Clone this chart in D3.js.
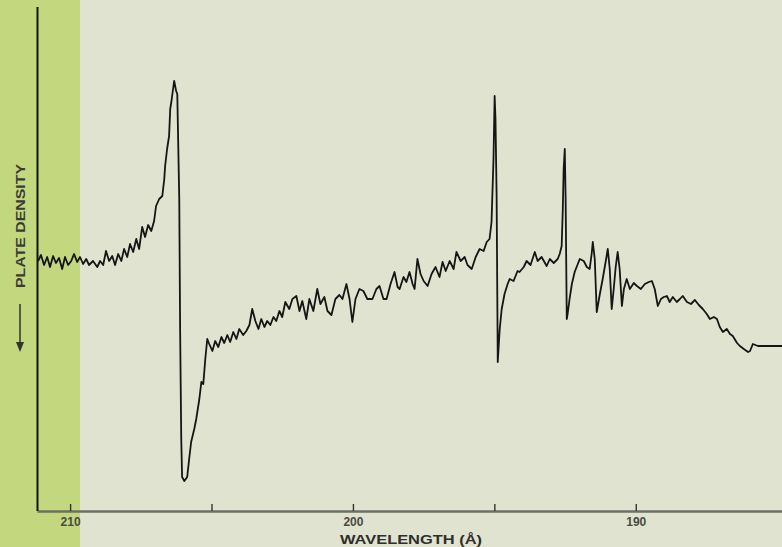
<!DOCTYPE html>
<html>
<head>
<meta charset="utf-8">
<script src="https://cdn.jsdelivr.net/npm/d3@7"></script>
<style>
  html, body { margin: 0; padding: 0; background: #e0e3cf; }
  svg { display: block; }
</style>
</head>
<body>
<div id="canvas"></div>
<script>
// wavelength in angstrom, decreasing to the right
var wavelength = [
  211.13, 211.03, 210.92, 210.81, 210.71, 210.60, 210.50, 210.39, 210.28, 210.18,
  210.07, 209.96, 209.86, 209.75, 209.65, 209.54, 209.43, 209.33, 209.19, 209.04,
  208.94, 208.83, 208.73, 208.62, 208.51, 208.41, 208.30, 208.19, 208.09, 207.98,
  207.88, 207.77, 207.66, 207.56, 207.45, 207.35, 207.24, 207.13, 207.03, 206.96,
  206.85, 206.74, 206.67, 206.64, 206.57, 206.50, 206.46, 206.42, 206.35, 206.32,
  206.25, 206.21, 206.14, 206.11, 206.07, 206.04, 205.96, 205.86, 205.79, 205.72,
  205.61, 205.54, 205.43, 205.36, 205.29, 205.22, 205.15, 205.08, 204.97, 204.87,
  204.76, 204.65, 204.55, 204.44, 204.34, 204.23, 204.12, 204.02, 203.88, 203.77,
  203.66, 203.56, 203.45, 203.34, 203.24, 203.13, 203.03, 202.92, 202.81, 202.71,
  202.60, 202.50, 202.39, 202.25, 202.14, 202.00, 201.89, 201.79, 201.65, 201.54,
  201.40, 201.26, 201.15, 201.01, 200.90, 200.76, 200.62, 200.48, 200.37, 200.23,
  200.12, 200.02, 199.91, 199.77, 199.63, 199.49, 199.31, 199.17, 199.06, 198.92,
  198.81, 198.67, 198.53, 198.42, 198.35, 198.21, 198.11, 198.00, 197.89, 197.82,
  197.72, 197.61, 197.50, 197.36, 197.22, 197.08, 196.94, 196.83, 196.72, 196.58,
  196.44, 196.34, 196.19, 196.05, 195.95, 195.80, 195.66, 195.52, 195.38, 195.27,
  195.17, 195.10, 195.03, 194.99, 194.96, 194.92, 194.88, 194.81, 194.74, 194.64,
  194.53, 194.46, 194.32, 194.18, 194.11, 193.96, 193.86, 193.72, 193.57, 193.47,
  193.33, 193.15, 193.04, 192.90, 192.76, 192.69, 192.62, 192.58, 192.55, 192.51,
  192.48, 192.44, 192.41, 192.34, 192.26, 192.16, 192.05, 191.98, 191.84, 191.73,
  191.63, 191.56, 191.52, 191.45, 191.38, 191.27, 191.17, 191.06, 190.99, 190.92,
  190.85, 190.78, 190.71, 190.64, 190.57, 190.49, 190.42, 190.32, 190.21, 190.07,
  189.96, 189.82, 189.68, 189.54, 189.43, 189.33, 189.22, 189.11, 189.01, 188.90,
  188.80, 188.69, 188.55, 188.44, 188.34, 188.19, 188.05, 187.91, 187.77, 187.63,
  187.49, 187.38, 187.24, 187.13, 187.03, 186.92, 186.78, 186.67, 186.57, 186.42,
  186.32, 186.18, 186.03, 185.96, 185.86, 185.68, 185.26, 184.83
];

// plate density, arbitrary units
var density = [
  2.50, 2.56, 2.46, 2.54, 2.44, 2.55, 2.48, 2.53, 2.42, 2.54,
  2.46, 2.50, 2.57, 2.49, 2.54, 2.47, 2.52, 2.46, 2.50, 2.44,
  2.50, 2.46, 2.60, 2.50, 2.55, 2.46, 2.57, 2.50, 2.62, 2.54,
  2.67, 2.59, 2.72, 2.62, 2.84, 2.74, 2.86, 2.80, 2.90, 3.05,
  3.12, 3.15, 3.32, 3.45, 3.62, 3.75, 4.02, 4.09, 4.24, 4.30,
  4.20, 4.17, 3.12, 1.82, 0.72, 0.34, 0.30, 0.34, 0.52, 0.69,
  0.82, 0.92, 1.12, 1.29, 1.27, 1.52, 1.72, 1.67, 1.60, 1.70,
  1.64, 1.74, 1.68, 1.76, 1.69, 1.79, 1.72, 1.82, 1.76, 1.80,
  1.86, 2.02, 1.90, 1.82, 1.92, 1.84, 1.90, 1.86, 1.94, 1.90,
  2.00, 1.94, 2.09, 2.02, 2.12, 2.15, 2.00, 2.10, 1.92, 2.12,
  2.00, 2.22, 2.07, 2.14, 2.00, 1.96, 2.12, 2.16, 2.12, 2.27,
  2.12, 1.89, 2.12, 2.22, 2.20, 2.12, 2.12, 2.22, 2.25, 2.12,
  2.12, 2.27, 2.39, 2.24, 2.22, 2.34, 2.29, 2.39, 2.27, 2.22,
  2.52, 2.37, 2.30, 2.25, 2.37, 2.44, 2.34, 2.49, 2.40, 2.50,
  2.42, 2.59, 2.50, 2.54, 2.46, 2.42, 2.54, 2.62, 2.60, 2.69,
  2.72, 2.89, 3.52, 4.15, 3.92, 3.15, 1.49, 1.82, 2.02, 2.17,
  2.27, 2.32, 2.30, 2.40, 2.39, 2.44, 2.50, 2.46, 2.59, 2.50,
  2.54, 2.45, 2.52, 2.48, 2.52, 2.57, 2.65, 3.02, 3.42, 3.62,
  3.12, 1.92, 1.97, 2.12, 2.27, 2.39, 2.47, 2.52, 2.50, 2.44,
  2.42, 2.57, 2.69, 2.52, 1.99, 2.17, 2.32, 2.50, 2.62, 2.42,
  2.02, 2.22, 2.44, 2.59, 2.42, 2.05, 2.22, 2.32, 2.22, 2.28,
  2.25, 2.22, 2.27, 2.29, 2.30, 2.22, 2.05, 2.12, 2.14, 2.15,
  2.09, 2.14, 2.09, 2.12, 2.15, 2.09, 2.07, 2.11, 2.06, 2.02,
  1.97, 1.92, 1.94, 1.92, 1.84, 1.79, 1.82, 1.77, 1.75, 1.68,
  1.65, 1.62, 1.59, 1.60, 1.67, 1.65, 1.65, 1.65
];

var xTicks = [210, 205, 200, 195, 190];
var xTickLabels = ['210', '', '200', '', '190'];
var xTitle = 'WAVELENGTH (\u00C5)';
var yTitle = 'PLATE DENSITY';

var width = 782,
    height = 547;

var svg = d3.select('#canvas').append('svg')
    .attr('width', width)
    .attr('height', height);

// paper background and the green strip on the left
svg.append('rect')
    .attr('width', width)
    .attr('height', height)
    .attr('fill', '#e0e3cf');
svg.append('rect')
    .attr('width', 80)
    .attr('height', height)
    .attr('fill', '#c3d77e');

var x = d3.scaleLinear()
    .domain([211.17, 184.83])
    .range([37, 782]);

var y = d3.scaleLinear()
    .domain([0, 5.04])
    .range([511, 7]);

var points = wavelength.map(function (w, i) { return [w, density[i]]; });

// x axis: ticks point up into the plot
var xAxis = d3.axisTop(x)
    .tickValues(xTicks)
    .tickSize(7)
    .tickSizeOuter(0)
    .tickFormat(function (d, i) { return ''; });

var gx = svg.append('g')
    .attr('transform', 'translate(0,' + y(0) + ')')
    .call(xAxis);
gx.select('.domain')
    .attr('stroke', '#6e6e66')
    .attr('stroke-width', 2.5);
gx.selectAll('.tick line')
    .attr('stroke', '#333')
    .attr('stroke-width', 1.4);

gx.selectAll('.tick')
    .append('text')
    .attr('y', 15)
    .attr('text-anchor', 'middle')
    .attr('fill', '#4a4a44')
    .style('font-family', 'Liberation Sans, Arial, sans-serif')
    .style('font-size', '12px')
    .style('font-weight', 'bold')
    .text(function (d, i) { return xTickLabels[i]; });

svg.append('text')
    .attr('x', 411)
    .attr('y', 544)
    .attr('text-anchor', 'middle')
    .attr('textLength', 142)
    .attr('lengthAdjust', 'spacingAndGlyphs')
    .attr('fill', '#2e2e2a')
    .style('font-family', 'Liberation Sans, Arial, sans-serif')
    .style('font-size', '13px')
    .style('font-weight', 'bold')
    .text(xTitle);

// y axis: a bare line, no ticks
svg.append('line')
    .attr('x1', 37.5)
    .attr('x2', 37.5)
    .attr('y1', y(5.04))
    .attr('y2', y(0))
    .attr('stroke', '#111')
    .attr('stroke-width', 2);

svg.append('text')
    .attr('transform', 'translate(25,' + 226 + ') rotate(-90)')
    .attr('text-anchor', 'middle')
    .attr('textLength', 124)
    .attr('lengthAdjust', 'spacingAndGlyphs')
    .attr('fill', '#3a3a36')
    .style('font-family', 'Liberation Sans, Arial, sans-serif')
    .style('font-size', '13px')
    .style('font-weight', 'bold')
    .text(yTitle);

// arrow pointing down beneath the y title
svg.append('line')
    .attr('x1', 20)
    .attr('x2', 20)
    .attr('y1', 304)
    .attr('y2', 346)
    .attr('stroke', '#333')
    .attr('stroke-width', 1.5);
svg.append('path')
    .attr('d', 'M16,342 L20,352 L24,342 Z')
    .attr('fill', '#333');

var line = d3.line()
    .x(function (d) { return x(d[0]); })
    .y(function (d) { return y(d[1]); });

svg.append('path')
    .datum(points)
    .attr('d', line)
    .attr('fill', 'none')
    .attr('stroke', '#151515')
    .attr('stroke-width', 1.8)
    .attr('stroke-linejoin', 'round');
</script>
</body>
</html>
